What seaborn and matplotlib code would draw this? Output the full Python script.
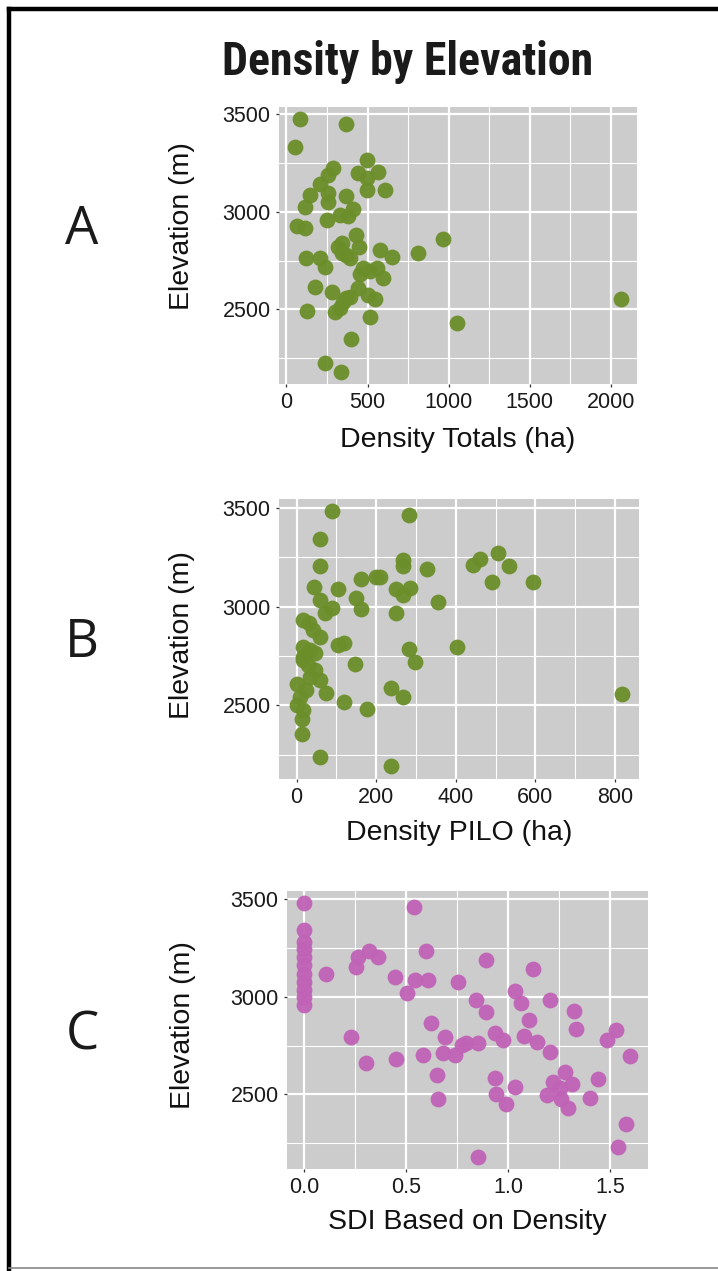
import matplotlib
matplotlib.use("Agg")
from matplotlib import pyplot as plt
from matplotlib.lines import Line2D
from matplotlib.ticker import MultipleLocator, FormatStrFormatter
import matplotlib.font_manager as fm
import numpy as np
import pandas as pd
import seaborn as sns

# Panel A - density totals (ha) vs elevation
totals_ha = [82, 366, 51, 494, 288, 442, 566, 257, 494, 206, 607, 494, 257, 144, 366,
             257, 113, 411, 329, 380, 247, 62, 113, 428, 963, 340, 449, 576, 813, 648,
             340, 391, 123, 206, 237, 453, 515, 556, 593, 175, 442, 278, 391, 504, 545,
             350, 2064, 128, 298, 329, 515, 1054, 395, 237, 335, 319, 370, 474, 370]
totals_elev = [3474, 3452, 3333, 3264, 3225, 3201, 3205, 3188, 3171, 3145, 3114, 3114, 3094, 3085, 3080,
               3051, 3026, 3017, 2983, 2980, 2957, 2927, 2918, 2881, 2860, 2838, 2821, 2804, 2787, 2770,
               2787, 2761, 2766, 2761, 2715, 2684, 2696, 2710, 2659, 2613, 2608, 2587, 2565, 2573, 2553,
               2536, 2551, 2491, 2488, 2505, 2462, 2432, 2346, 2227, 2181, 2821, 2778, 2710, 2556]

# Panel B - density PILO (ha) vs elevation
pilo_ha = [90, 283, 59, 59, 268, 268, 327, 461, 444, 505, 534, 490, 595, 161, 199,
           209, 44, 103, 251, 268, 285, 149, 60, 163, 88, 71, 356, 251, 17, 32,
           42, 59, 17, 34, 46, 105, 119, 402, 283, 297, 17, 29, 46, 148, 59,
           0, 25, 75, 237, 268, 119, 178, 0, 17, 14, 14, 59, 237, 818, 17, 34, 8]
pilo_elev = [3483, 3466, 3344, 3208, 3237, 3207, 3192, 3241, 3212, 3271, 3208, 3123, 3123, 3140, 3149,
             3149, 3101, 3088, 3089, 3059, 3093, 3042, 3034, 2987, 2992, 2966, 3025, 2966, 2932, 2915,
             2881, 2847, 2797, 2780, 2763, 2805, 2817, 2797, 2783, 2720, 2729, 2703, 2678, 2707, 2627,
             2610, 2576, 2563, 2589, 2543, 2517, 2483, 2500, 2475, 2432, 2356, 2237, 2190, 2559, 2746, 2644, 2542]

# Panel C - SDI based on density vs elevation
sdi = [0, 0, 0, 0, 0, 0, 0, 0, 0, 0, 0, 0.538, 0.596, 0.894, 1.123,
       0.265, 0.319, 0.363, 0.253, 0.109, 0.444, 0.542, 0.608, 0.755, 0.505, 1.033, 1.065, 1.204, 0.842, 0.894,
       1.103, 1.322, 1.332, 0.624, 0.232, 0.693, 0.938, 0.976, 1.077, 1.139, 1.204, 1.526, 1.482, 1.596, 0.306,
       0.449, 0.583, 0.681, 0.739, 0.772, 0.796, 0.853, 0.652, 0.938, 1.033, 0.657, 0.942, 0.988, 1.278, 1.221,
       1.311, 1.188, 1.260, 1.293, 1.403, 1.441, 1.253, 1.579, 1.536, 0.850]
sdi_elev = [3481, 3341, 3282, 3247, 3205, 3162, 3119, 3077, 3034, 3000, 2957, 3461, 3234, 3188, 3140,
            3205, 3234, 3205, 3150, 3116, 3099, 3085, 3085, 3073, 3017, 3029, 2966, 2983, 2983, 2920,
            2881, 2928, 2834, 2864, 2795, 2792, 2812, 2778, 2799, 2766, 2718, 2829, 2778, 2698, 2662,
            2681, 2701, 2713, 2701, 2753, 2761, 2761, 2601, 2585, 2536, 2476, 2500, 2451, 2616, 2565,
            2553, 2497, 2474, 2428, 2480, 2578, 2531, 2346, 2229, 2181]

W, H = 718, 1271
fig = plt.figure(figsize=(W / 100, H / 100), dpi=100)
fig.patch.set_facecolor("white")

tick_font = ["Liberation Sans", "DejaVu Sans"]


def box(left, top, right, bottom):
    return [left / W, 1 - bottom / H, (right - left) / W, (bottom - top) / H]


def panel(rect, x, y, color, xlim, ylim, xmajor, xlabel, xlab_y, ylab_x, ylab_y, fmt=None):
    ax = fig.add_axes(rect)
    df = pd.DataFrame({"x": x, "y": y})
    sns.scatterplot(data=df, x="x", y="y", ax=ax, color=color, s=130,
                    linewidth=0, alpha=0.95, zorder=3)
    ax.set_facecolor("#cccccc")
    ax.set_xlim(*xlim)
    ax.set_ylim(*ylim)
    ax.xaxis.set_major_locator(MultipleLocator(xmajor))
    ax.xaxis.set_minor_locator(MultipleLocator(xmajor / 2))
    ax.set_yticks([2500, 3000, 3500])
    ax.yaxis.set_minor_locator(MultipleLocator(250))
    if fmt is not None:
        ax.xaxis.set_major_formatter(fmt)
    ax.grid(which="major", color="white", linewidth=1.6, zorder=0)
    ax.grid(which="minor", color="white", linewidth=0.8, zorder=0)
    ax.set_axisbelow(True)
    for sp in ax.spines.values():
        sp.set_visible(False)
    ax.tick_params(which="major", length=2.5, width=0.9, color="#333333",
                   labelsize=15.5, labelcolor="#1a1a1a", pad=3.5)
    ax.tick_params(which="minor", length=0)
    for lab in ax.get_xticklabels() + ax.get_yticklabels():
        lab.set_family(tick_font)
    ax.set_xlabel(xlabel, fontsize=20.5, family=tick_font, color="#111111", va="center")
    ax.set_ylabel("Elevation (m)", fontsize=20.5, family=tick_font, color="#111111", va="center")
    ax.xaxis.set_label_coords(0.5, xlab_y)
    ax.yaxis.set_label_coords(ylab_x, ylab_y)
    return ax


green = "#6b8e2a"
pink = "#c062b6"

panel(box(279, 107, 637, 384), totals_ha, totals_elev, green,
      (-46, 2162), (2118, 3537), 500, "Density Totals (ha)", -0.202, -0.271, 0.570)
panel(box(279, 499, 639, 779), pilo_ha, pilo_elev, green,
      (-44, 860), (2126, 3546), 200, "Density PILO (ha)", -0.193, -0.269, 0.514)
panel(box(287, 891, 648, 1169), sdi, sdi_elev, pink,
      (-0.083, 1.685), (2117, 3542), 0.5, "SDI Based on Density", -0.19, -0.288, 0.518,
      fmt=FormatStrFormatter("%.1f"))


# title is set in a condensed bold face; pick a bold narrow font if one is installed
def wnum(w):
    return w if isinstance(w, (int, float)) else fm.weight_dict.get(w, 400)


def narrow_rank(name):
    # prefer moderately narrow faces (closest to Helvetica Condensed)
    for i, key in enumerate(["Liberation Sans Narrow", "Arial Narrow", "Roboto Condensed",
                             "Narrow", "Semi Condensed", "SemiCondensed"]):
        if key in name:
            return i
    if "Extra" in name or "Ultra" in name:
        return 9
    return 7


named = sorted({f.name for f in fm.fontManager.ttflist
                if wnum(f.weight) >= 600 and ("Narrow" in f.name or "Condensed" in f.name)},
               key=lambda n: (narrow_rank(n), n))
stretched = sorted({f.name for f in fm.fontManager.ttflist
                    if wnum(f.weight) >= 600 and str(f.stretch) in ("condensed", "semi-condensed")})
if named:
    title_family, title_stretch = [named[0], "Liberation Sans"], "normal"
elif stretched:
    title_family, title_stretch = [stretched[0], "Liberation Sans"], "condensed"
else:
    title_family, title_stretch = ["Liberation Sans", "DejaVu Sans"], "normal"

title = fig.text(408 / W, 1 - 62 / H, "Density by Elevation", ha="center", va="center",
                 fontsize=33, fontweight="bold", fontstretch=title_stretch,
                 family=title_family, color="#1a1a1a")
# fit to the reference width (about 372 px)
fig.canvas.draw()
tw = title.get_window_extent().width
title.set_fontsize(min(34, max(26, 33 * 372 / tw)))

for letter, yy in [("A", 230), ("B", 643), ("C", 1036)]:
    fig.text(82 / W, 1 - yy / H, letter, ha="center", va="center", fontsize=38,
             family=["Open Sans", "DejaVu Sans"], color="#1a1a1a")

# frame around the figure
fig.add_artist(Line2D([9 / W, 9 / W], [0, 1 - 9 / H], color="black", lw=3.2,
                      transform=fig.transFigure))
fig.add_artist(Line2D([9 / W, 1], [1 - 9 / H, 1 - 9 / H], color="black", lw=3.2,
                      transform=fig.transFigure))
fig.add_artist(Line2D([9 / W, 1], [1 - 1268 / H, 1 - 1268 / H], color="#888888", lw=1.2,
                      transform=fig.transFigure))

fig.savefig("out.png", dpi=100)
